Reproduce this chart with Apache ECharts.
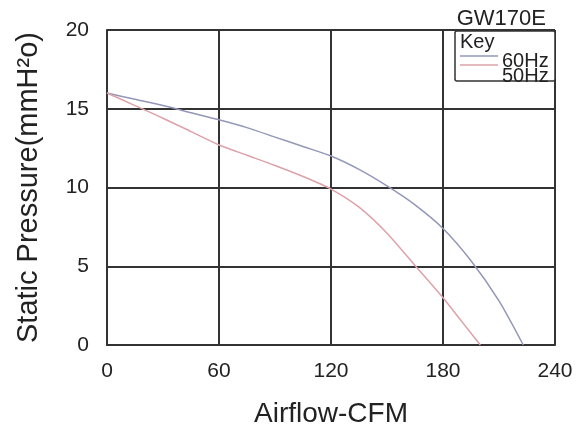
<!DOCTYPE html>
<html>
<head>
<meta charset="utf-8">
<script src="https://cdn.jsdelivr.net/npm/echarts@6/dist/echarts.min.js"></script>
<style>
html,body{margin:0;padding:0;background:#fff;}
#chart{width:587px;height:431px;}
</style>
</head>
<body>
<div id="chart"></div>
<script>
const titleText = 'GW170E';
const legendTitle = 'Key';
const xTicks = [0, 60, 120, 180, 240];
const yTicks = [0, 5, 10, 15, 20];
const seriesNames = ['60Hz', '50Hz'];
const seriesColors = ['#9397b8', '#dca2a8'];
const flow60 = [0, 15, 30, 45, 60, 75, 90, 105, 120, 135, 150, 165, 180, 195, 210, 223];
const pres60 = [16, 15.6, 15.2, 14.75, 14.3, 13.8, 13.2, 12.6, 12.0, 11.15, 10.1, 8.9, 7.4, 5.35, 2.8, 0];
const flow50 = [0, 15, 30, 45, 60, 75, 90, 105, 120, 135, 150, 165, 180, 190, 200];
const pres50 = [16, 15.2, 14.4, 13.55, 12.7, 12.05, 11.4, 10.7, 9.9, 8.75, 7.1, 5.05, 3.0, 1.5, 0];

const font = '"Liberation Sans", Arial, sans-serif';
const chart = echarts.init(document.getElementById('chart'));
chart.setOption({
  animation: false,
  backgroundColor: '#fff',
  title: {
    text: titleText, right: 36, top: 3,
    textStyle: {fontFamily: font, fontSize: 22, fontWeight: 'normal', color: '#222'}
  },
  graphic: [
    {type: 'rect', shape: {x: 455, y: 31, width: 100, height: 50, r: 2}, style: {fill: '#fff', stroke: '#333', lineWidth: 1.5}, z: 10},
    {type: 'text', x: 460, y: 32, style: {text: legendTitle, font: '20px ' + font, fill: '#222'}, z: 11},
    {type: 'line', shape: {x1: 460, y1: 56, x2: 498, y2: 56}, style: {stroke: seriesColors[0], lineWidth: 1.5}, z: 11},
    {type: 'line', shape: {x1: 460, y1: 65, x2: 498, y2: 65}, style: {stroke: seriesColors[1], lineWidth: 1.5}, z: 11},
    {type: 'text', x: 502, y: 51, style: {text: seriesNames[0], font: '20px ' + font, fill: '#222'}, z: 11},
    {type: 'text', x: 502, y: 66, style: {text: seriesNames[1], font: '20px ' + font, fill: '#222'}, z: 11}
  ],
  grid: {left: 107, right: 32, top: 30, bottom: 86, outerBoundsMode: 'none', containLabel: false},
  xAxis: {
    type: 'value', min: xTicks[0], max: xTicks[xTicks.length - 1], interval: 60,
    name: 'Airflow-CFM', nameLocation: 'middle', nameGap: 55,
    nameTextStyle: {fontFamily: font, fontSize: 28, color: '#222'},
    axisLine: {show: true, lineStyle: {color: '#333', width: 2}},
    axisTick: {show: false},
    axisLabel: {fontFamily: font, fontSize: 21, color: '#222', margin: 16},
    splitLine: {show: true, lineStyle: {color: '#333', width: 2}}
  },
  yAxis: {
    type: 'value', min: yTicks[0], max: yTicks[yTicks.length - 1], interval: 5,
    name: 'Static Pressure(mmH²o)', nameLocation: 'middle', nameGap: 64,
    nameTextStyle: {fontFamily: font, fontSize: 29, color: '#222'},
    axisLine: {show: true, lineStyle: {color: '#333', width: 2}},
    axisTick: {show: false},
    axisLabel: {fontFamily: font, fontSize: 21, color: '#222', margin: 18},
    splitLine: {show: true, lineStyle: {color: '#333', width: 2}}
  },
  series: [
    {
      name: seriesNames[0], type: 'line', smooth: 0.25, showSymbol: false, symbol: 'none',
      data: flow60.map((x, i) => [x, pres60[i]]),
      lineStyle: {color: seriesColors[0], width: 1.5}, z: 5
    },
    {
      name: seriesNames[1], type: 'line', smooth: 0.25, showSymbol: false, symbol: 'none',
      data: flow50.map((x, i) => [x, pres50[i]]),
      lineStyle: {color: seriesColors[1], width: 1.5}, z: 5
    }
  ]
});
</script>
</body>
</html>
